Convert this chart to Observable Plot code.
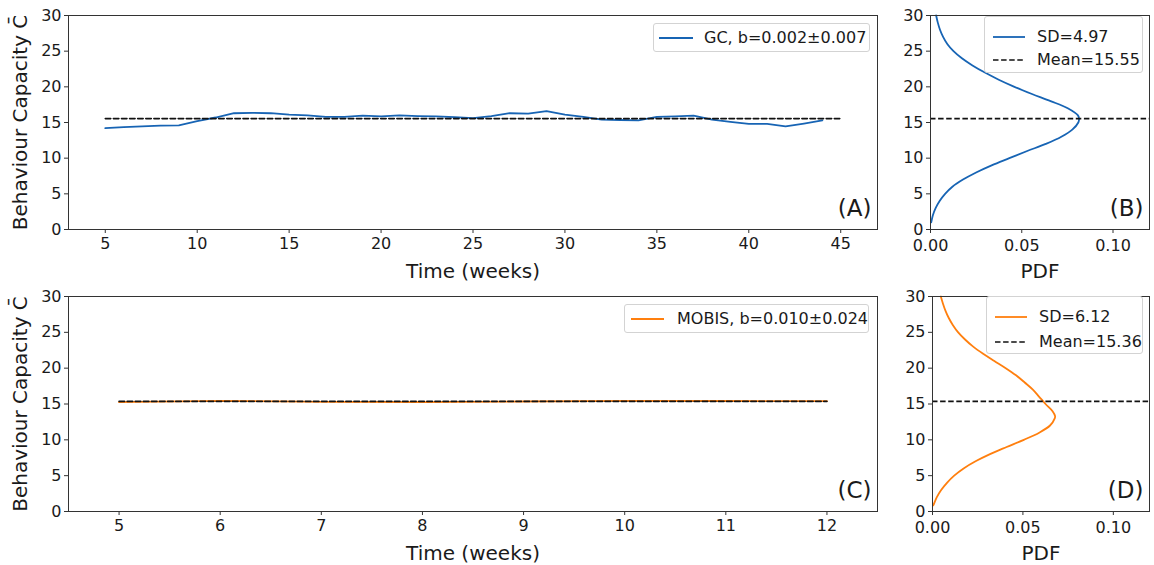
<!DOCTYPE html>
<html><head><meta charset="utf-8">
<script src="https://cdn.jsdelivr.net/npm/d3@7"></script>
<script src="https://cdn.jsdelivr.net/npm/@observablehq/plot@0.6"></script>
<style>
body{margin:0;background:#fff;font-family:"DejaVu Sans",sans-serif;}
#root{position:relative;width:1154px;height:565px;overflow:hidden;background:#fff;}
.panel{position:absolute;}
.legend{position:absolute;border:1px solid #d3d3d3;border-radius:3px;background:rgba(255,255,255,0.85);font-size:16px;color:#1a1a1a;box-sizing:border-box;}
.row{position:absolute;left:0;height:20px;white-space:nowrap;line-height:1;}
.row svg{position:absolute;top:5px;}
.row span{position:absolute;top:2px;}
</style></head><body><div id="root"></div>
<script>
// ---------- data ----------
const gcWeeks = [5,6,7,8,9,10,11,12,13,14,15,16,17,18,19,20,21,22,23,24,25,26,27,28,29,30,31,32,33,34,35,36,37,38,39,40,41,42,43,44];
const gcValues = [14.2,14.35,14.45,14.55,14.6,15.2,15.7,16.3,16.35,16.3,16.1,16.0,15.8,15.8,15.95,15.85,16.0,15.9,15.85,15.75,15.6,15.9,16.3,16.25,16.6,16.1,15.8,15.4,15.35,15.3,15.8,15.85,15.95,15.4,15.1,14.8,14.8,14.45,14.85,15.3];
const gcMean = 15.55;
const gcMeanSpan = [5, 45];
const gcLegend = "GC, b=0.002±0.007";
const gcSDLabel = "SD=4.97";
const gcMeanLabel = "Mean=15.55";

const mobisWeeks = [5,6,7,8,9,10,11,12];
const mobisValues = [15.25,15.45,15.3,15.25,15.35,15.45,15.42,15.4];
const mobisMean = 15.36;
const mobisMeanSpan = [5, 12];
const mobisLegend = "MOBIS, b=0.010±0.024";
const mobisSDLabel = "SD=6.12";
const mobisMeanLabel = "Mean=15.36";

// PDF curves (capacity value, density)
const gcPdfC = [1,2,3,4,5,6,7,8,9,10,11,12,13,14,15,15.5,16,17,18,19,20,21,22,23,24,25,26,27,28,29,30];
const gcPdfD = [0.0004,0.0013,0.0028,0.0050,0.0080,0.0120,0.0178,0.0250,0.0335,0.0432,0.0530,0.0632,0.0717,0.0777,0.0810,0.0814,0.0808,0.0752,0.0658,0.0556,0.0460,0.0374,0.0298,0.0230,0.0172,0.0126,0.0092,0.0069,0.0052,0.0040,0.0031];
const mobisPdfC = [0.85,1,2,3,4,5,6,7,8,9,10,11,12,13,13.3,14,15,16,17,18,19,20,21,22,23,24,25,26,27,28,29,30];
const mobisPdfD = [0.0004,0.0007,0.0024,0.0048,0.0080,0.0120,0.0172,0.0238,0.0318,0.0410,0.0505,0.0590,0.0650,0.0676,0.0678,0.0664,0.0625,0.0590,0.0555,0.0510,0.0462,0.0405,0.0342,0.0280,0.0225,0.0180,0.0142,0.0113,0.0090,0.0072,0.0058,0.0046];

const yTicks = [0,5,10,15,20,25,30];
const gcXTicks = [5,10,15,20,25,30,35,40,45];
const mobisXTicks = [5,6,7,8,9,10,11,12];
const pdfTicks = [0,0.05,0.10];

// ---------- style ----------
const BLUE = "#1764b4", ORANGE = "#ff7f0e";
const FONT = "DejaVu Sans";
const root = document.getElementById("root");

function baseStyle(){
  return {fontFamily: FONT, fontSize: "16px", color: "#1a1a1a", background: "transparent", overflow: "visible"};
}

function timePanel({weeks, values, mean, span, color, xDomain, xTicks, tag, height, marginTop, marginBottom}){
  const series = weeks.map((w,i)=>({w, v: values[i]}));
  const meanLine = span.map(w=>({w, v: mean}));
  return Plot.plot({
    width: 890, height, marginLeft: 68, marginRight: 13, marginTop, marginBottom,
    style: baseStyle(),
    x: {domain: xDomain}, y: {domain: [0,30]},
    marks: [
      Plot.axisX({ticks: xTicks, tickSize: 4, tickPadding: 4, fontSize: 16, label: null, stroke: "#333"}),
      Plot.axisY({ticks: yTicks, tickSize: 4, tickPadding: 3, fontSize: 16, label: null, stroke: "#333"}),
      Plot.line(series, {x: "w", y: "v", stroke: color, strokeWidth: 1.8}),
      Plot.line(meanLine, {x: "w", y: "v", stroke: "#111", strokeWidth: 1.6, strokeDasharray: "5.5,2.6"}),
      Plot.frame({stroke: "#333", strokeWidth: 1}),
      Plot.text(["Time (weeks)"], {frameAnchor: "bottom", lineAnchor: "bottom", dy: 48, fontSize: 20, fill: "#1a1a1a"}),
      Plot.text(["Behaviour Capacity C\u0304"], {frameAnchor: "left", textAnchor: "middle", lineAnchor: "middle", rotate: -90, dx: -48, fontSize: 20, fill: "#1a1a1a"}),
      Plot.text([tag], {frameAnchor: "bottom-right", textAnchor: "end", lineAnchor: "bottom", dx: -6, dy: -14, fontSize: 23, fill: "#1a1a1a"})
    ]
  });
}

function pdfPanel({cap, dens, mean, color, tag, height, marginTop, marginBottom, marginLeft}){
  const curve = cap.map((c,i)=>({c, d: dens[i]}));
  return Plot.plot({
    width: 264, height, marginLeft, marginRight: 5, marginTop, marginBottom,
    style: baseStyle(),
    x: {domain: [0,0.12]}, y: {domain: [0,30]},
    marks: [
      Plot.axisX({ticks: pdfTicks, tickFormat: d3.format(".2f"), tickSize: 4, tickPadding: 6, fontSize: 16, label: null, stroke: "#333"}),
      Plot.axisY({ticks: yTicks, tickSize: 4, tickPadding: 3, fontSize: 16, label: null, stroke: "#333"}),
      Plot.line(curve, {x: "d", y: "c", stroke: color, strokeWidth: 1.8, curve: "catmull-rom"}),
      Plot.ruleY([mean], {stroke: "#111", strokeWidth: 1.6, strokeDasharray: "5.5,2.6"}),
      Plot.frame({stroke: "#333", strokeWidth: 1}),
      Plot.text(["PDF"], {frameAnchor: "bottom", lineAnchor: "bottom", dy: 48, fontSize: 20, fill: "#1a1a1a"}),
      Plot.text([tag], {frameAnchor: "bottom-right", textAnchor: "end", lineAnchor: "bottom", dx: -6, dy: -14, fontSize: 23, fill: "#1a1a1a"})
    ]
  });
}

function place(el, left, top){
  const d = document.createElement("div");
  d.className = "panel"; d.style.left = left+"px"; d.style.top = top+"px";
  d.appendChild(el); root.appendChild(d);
}

function legend({left, top, width, height, rows, sampleX, sampleW, textX}){
  const box = document.createElement("div");
  box.className = "legend";
  Object.assign(box.style, {left: left+"px", top: top+"px", width: width+"px", height: height+"px"});
  rows.forEach(r=>{
    const row = document.createElement("div");
    row.className = "row";
    row.style.top = r.y+"px"; row.style.width = width+"px";
    const svg = d3.create("svg").attr("width", sampleW).attr("height", 10).style("left", sampleX+"px");
    svg.append("line").attr("x1",0).attr("x2",sampleW).attr("y1",5).attr("y2",5)
      .attr("stroke", r.color).attr("stroke-width", r.dash ? 1.6 : 1.8)
      .attr("stroke-dasharray", r.dash ? "5.5,2.6" : null);
    row.appendChild(svg.node());
    const sp = document.createElement("span");
    sp.textContent = r.text; sp.style.left = textX+"px";
    row.appendChild(sp);
    box.appendChild(row);
  });
  root.appendChild(box);
}

// ---------- panels ----------
place(timePanel({weeks: gcWeeks, values: gcValues, mean: gcMean, span: gcMeanSpan, color: BLUE,
  xDomain: [3,47], xTicks: gcXTicks, tag: "(A)", height: 290, marginTop: 15, marginBottom: 61}), 0, 0);
place(pdfPanel({cap: gcPdfC, dens: gcPdfD, mean: gcMean, color: BLUE, tag: "(B)",
  height: 290, marginTop: 15, marginBottom: 61, marginLeft: 40}), 890, 0);
place(timePanel({weeks: mobisWeeks, values: mobisValues, mean: mobisMean, span: mobisMeanSpan, color: ORANGE,
  xDomain: [4.5,12.5], xTicks: mobisXTicks, tag: "(C)", height: 283, marginTop: 14, marginBottom: 54}), 0, 282);
place(pdfPanel({cap: mobisPdfC, dens: mobisPdfD, mean: mobisMean, color: ORANGE, tag: "(D)",
  height: 283, marginTop: 14, marginBottom: 54, marginLeft: 42}), 890, 282);

legend({left: 653, top: 23, width: 217, height: 29, sampleX: 5, sampleW: 34, textX: 50,
  rows: [{y: 4, color: BLUE, text: gcLegend}]});
legend({left: 984, top: 16, width: 159, height: 57, sampleX: 8, sampleW: 32, textX: 52,
  rows: [{y: 10, color: BLUE, text: gcSDLabel}, {y: 33, color: "#111", dash: true, text: gcMeanLabel}]});
legend({left: 624, top: 304, width: 245, height: 29, sampleX: 6, sampleW: 33, textX: 52,
  rows: [{y: 4, color: ORANGE, text: mobisLegend}]});
legend({left: 986, top: 296, width: 157, height: 58, sampleX: 8, sampleW: 32, textX: 52,
  rows: [{y: 10, color: ORANGE, text: mobisSDLabel}, {y: 35, color: "#111", dash: true, text: mobisMeanLabel}]});
</script></body></html>
